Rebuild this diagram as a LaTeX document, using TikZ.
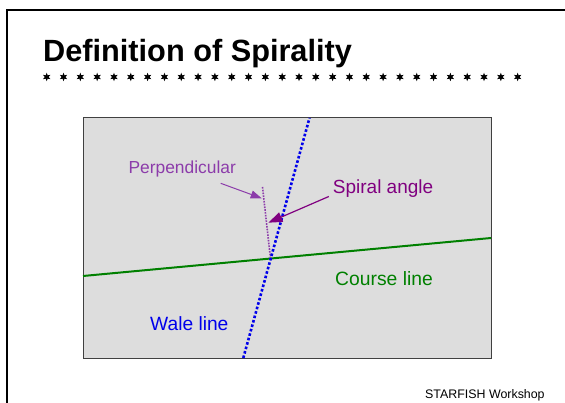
\documentclass[tikz,border=0pt]{standalone}
\usepackage{fontspec}
\setmainfont{Liberation Sans}
\usetikzlibrary{arrows.meta,positioning,shapes.geometric}
\definecolor{mygray}{RGB}{221,221,221}
\definecolor{mygreen}{RGB}{0,128,0}
\definecolor{myblue}{RGB}{0,0,235}
\definecolor{mypurple}{RGB}{128,0,128}
\definecolor{mylilac}{RGB}{140,60,170}

\begin{document}
\begin{tikzpicture}[x=1pt,y=-1pt,
  lbl/.style={anchor=base west, inner sep=0pt},
  stardot/.style={star, star points=6, star point ratio=2.2, fill=black,
                  inner sep=0pt, minimum size=8.5pt}]
  \useasboundingbox (0,0) rectangle (565,403);
  % frame
  \draw[line width=2pt] (565,10) -- (7,10) -- (7,403);
  % title
  \node[lbl, font=\fontsize{30.7}{36}\selectfont\bfseries] (title) at (43,62)
    {Definition of Spirality};
  \foreach \i in {0,...,28}
    \node[stardot] (s\i) at (46.7+16.82*\i,77) {};
  % panel
  \draw[black!75, fill=mygray] (83,117.5) rectangle (491,358);
  \coordinate (cross) at (270.5,258.5);
  % Course line
  \draw[mygreen, line width=2pt] (83,276) -- (491,238);
  % Perpendicular
  \draw[mylilac, line width=1.6pt, dash pattern=on 1.6pt off 1.2pt] (262.5,187) -- (cross);
  % Wale line
  \draw[myblue, line width=2.6pt, dash pattern=on 2.6pt off 2pt] (243.3,358) -- (309.5,118);
  % labels
  \node[lbl, mylilac, font=\fontsize{17.4}{20}\selectfont] (perp) at (128.3,174)
    {Perpendicular};
  \node[lbl, mypurple, font=\fontsize{19}{22}\selectfont] (spiral) at (332.7,193.3)
    {Spiral angle};
  \node[lbl, mygreen, font=\fontsize{19.3}{22}\selectfont] (course) at (335,286)
    {Course line};
  \node[lbl, myblue, font=\fontsize{19.2}{22}\selectfont] (wale) at (150,330.7)
    {Wale line};
  % arrows
  \coordinate (perpfoot) at (220.7,183.3);
  \coordinate (perptip) at (261.7,198.3);
  \coordinate (spiralfoot) at (328.8,196.5);
  \coordinate (spiraltip) at (268.3,222.7);
  \draw[mylilac, line width=1pt, -{Triangle[length=11pt,width=8pt]}] (perpfoot) -- (perptip);
  \draw[mypurple, line width=1.2pt, -{Triangle[length=14pt,width=10pt]}] (spiralfoot) -- (spiraltip);
  % footer
  \node[lbl, font=\fontsize{12.4}{14}\selectfont] (foot) at (425,398.3)
    {STARFISH Workshop};
\end{tikzpicture}
\end{document}
